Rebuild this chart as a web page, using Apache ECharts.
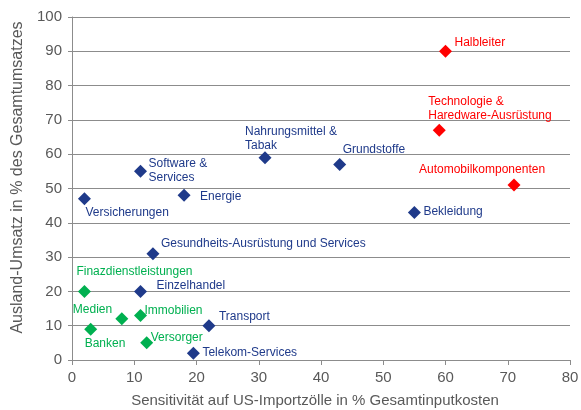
<!DOCTYPE html>
<html>
<head>
<meta charset="utf-8">
<script src="https://cdn.jsdelivr.net/npm/echarts@6/dist/echarts.min.js"></script>
<style>
  html, body { margin: 0; padding: 0; background: #fff; }
  #chart { width: 581px; height: 410px; }
</style>
</head>
<body>
<div id="chart"></div>
<script>
// Daten
var blauNamen = ['Nahrungsmittel &\nTabak', 'Grundstoffe', 'Software &\nServices', 'Energie', 'Versicherungen',
    'Bekleidung', 'Gesundheits-Ausrüstung und Services', 'Einzelhandel', 'Transport', 'Telekom-Services'];
var blauX = [31, 43, 11, 18, 2, 55, 13, 11, 22, 19.5];
var blauY = [59, 57, 55, 48, 47, 43, 31, 20, 10, 2];

var rotNamen = ['Halbleiter', 'Technologie &\nHaredware-Ausrüstung', 'Automobilkomponenten'];
var rotX = [60, 59, 71];
var rotY = [90, 67, 51];

var gruenNamen = ['Finazdienstleistungen', 'Medien', 'Immobilien', 'Banken', 'Versorger'];
var gruenX = [2, 8, 11, 3, 12];
var gruenY = [20, 12, 13, 9, 5];

// Beschriftungs-Versatz je Punkt (Pixel, relativ zum Punkt)
var blauOffset = [[-20, -19], [3, -15], [8, -1], [16, 1], [1, 14], [9, -1], [8, -10], [16, -6], [10, -9], [9, 0]];
var rotOffset = [[9, -9], [-11, -22], [-95, -15]];
var gruenOffset = [[-8, -20], [-49, -9], [4, -5], [-6, 15], [4, -5]];

var textFont = 'Liberation Sans, Arial, sans-serif';

function baue(namen, xs, ys, offsets, farbe) {
    return namen.map(function (n, i) {
        return {
            name: n,
            value: [xs[i], ys[i]],
            label: {
                show: true,
                position: 'inside',
                align: 'left',
                verticalAlign: 'middle',
                offset: offsets[i],
                formatter: '{b}',
                color: farbe,
                fontSize: 12,
                lineHeight: 14,
                fontFamily: textFont
            }
        };
    });
}

function serie(namen, xs, ys, offsets, farbe) {
    return {
        type: 'scatter',
        symbol: 'diamond',
        symbolSize: 13,
        itemStyle: { color: farbe, opacity: 1 },
        data: baue(namen, xs, ys, offsets, farbe),
        z: 3
    };
}

var chart = echarts.init(document.getElementById('chart'));
chart.setOption({
    animation: false,
    backgroundColor: '#fff',
    grid: { left: 72, right: 11, top: 17, bottom: 50, outerBoundsMode: 'none', containLabel: false },
    xAxis: {
        type: 'value',
        min: 0, max: 80, interval: 10,
        name: 'Sensitivität auf US-Importzölle in % Gesamtinputkosten',
        nameLocation: 'middle',
        nameGap: 33,
        nameTextStyle: { color: '#595959', fontSize: 15, fontFamily: textFont, padding: [0, 12, 0, 0] },
        axisLine: { lineStyle: { color: '#8c8c8c', width: 1 } },
        axisTick: { show: true, length: 5, lineStyle: { color: '#8c8c8c' } },
        axisLabel: { color: '#595959', fontSize: 15, fontFamily: textFont, margin: 10 },
        splitLine: { show: false }
    },
    yAxis: {
        type: 'value',
        min: 0, max: 100, interval: 10,
        name: 'Ausland-Umsatz in % des Gesamtumsatzes',
        nameLocation: 'middle',
        nameGap: 44,
        nameTextStyle: { color: '#595959', fontSize: 16, fontFamily: textFont, padding: [0, 0, 0, 22] },
        axisLine: { show: true, lineStyle: { color: '#8c8c8c', width: 1 } },
        axisTick: { show: true, length: 4, lineStyle: { color: '#8c8c8c' } },
        axisLabel: { color: '#595959', fontSize: 15, fontFamily: textFont, margin: 10 },
        splitLine: { show: true, lineStyle: { color: '#8c8c8c', width: 1 } }
    },
    series: [
        serie(blauNamen, blauX, blauY, blauOffset, '#1F3A8A'),
        serie(rotNamen, rotX, rotY, rotOffset, '#FF0000'),
        serie(gruenNamen, gruenX, gruenY, gruenOffset, '#00B050')
    ]
});
</script>
</body>
</html>
